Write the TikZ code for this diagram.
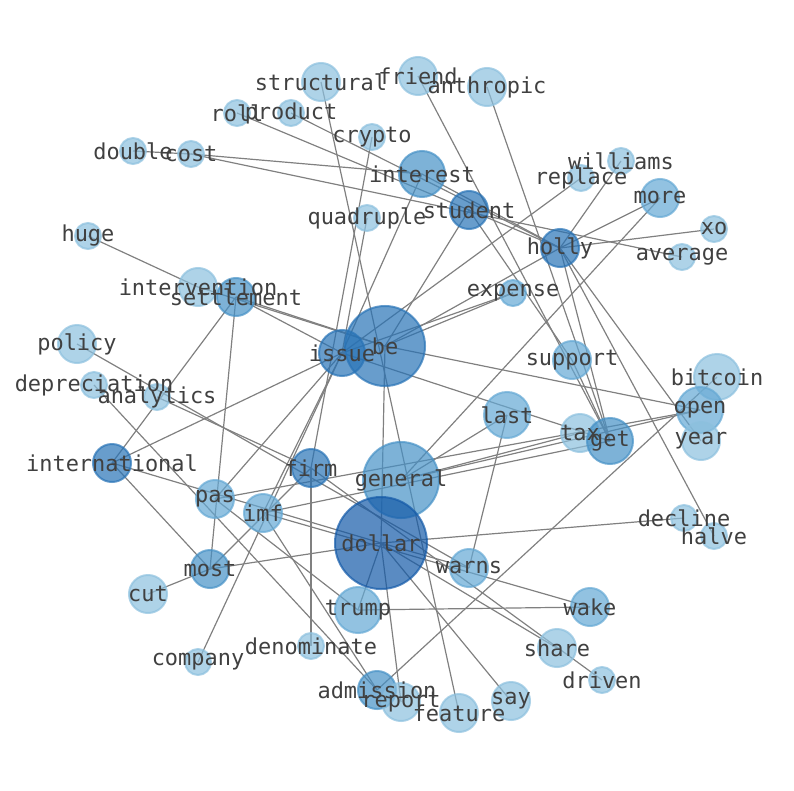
\documentclass[tikz,border=0pt]{standalone}
\usepackage{fontspec}
\newfontfamily\lblfont{DejaVu Sans Mono}
\definecolor{arista}{RGB}{128,128,128}
\definecolor{texto}{RGB}{64,64,64}
\definecolor{azul1}{RGB}{140,192,222}
\definecolor{azul2}{RGB}{100,168,212}
\definecolor{azul3}{RGB}{70,145,198}
\definecolor{azul4}{RGB}{40,115,182}
\definecolor{azul5}{RGB}{20,90,168}
\pgfdeclarelayer{fondo}
\pgfsetlayers{fondo,main}
\begin{document}
\begin{tikzpicture}[x=0.025cm, y=-0.025cm,
	nodo/.style={circle, inner sep=0pt, fill opacity=0.7, draw opacity=0.7, line width=0.05cm},
	t1/.style={minimum size=0.65cm}, t2/.style={minimum size=0.95cm}, t3/.style={minimum size=1.15cm},
	t4/.style={minimum size=1.9cm}, t5/.style={minimum size=2cm}, t6/.style={minimum size=2.3cm},
	c1/.style={fill=azul1, draw=azul1}, c2/.style={fill=azul2, draw=azul2}, c3/.style={fill=azul3, draw=azul3},
	c4/.style={fill=azul4, draw=azul4}, c5/.style={fill=azul5, draw=azul5},
	enlace/.style={draw=arista, line width=0.85pt},
	etiqueta/.style={font=\lblfont\fontsize{15.6}{18}\selectfont, text=texto, inner sep=0pt}]
	\useasboundingbox (0,0) rectangle (794,790);

	% Nodos
	\foreach \n/\x/\y/\t/\c in {structural/321/82/t2/c1, friend/418/76/t2/c1, anthropic/487/87/t2/c1,
		roll/237/113/t1/c1, product/291/113/t1/c1, crypto/372/137/t1/c1, double/133/151/t1/c1, cost/191/154/t1/c1,
		interest/422/174/t3/c3, williams/621/161/t1/c1, replace/581/178/t1/c1, more/660/198/t2/c2,
		student/469/210/t2/c4, quadruple/367/218/t1/c1, huge/88/236/t1/c1, xo/714/229/t1/c1,
		holly/560/248/t2/c4, average/682/257/t1/c1, intervention/198/287/t2/c1, settlement/236/297/t2/c3,
		expense/513/293/t1/c2, policy/77/344/t2/c1, be/385/346/t5/c4, issue/342/353/t3/c4,
		support/572/360/t2/c2, depreciation/94/385/t1/c1, analytics/157/397/t1/c1, bitcoin/717/377/t3/c1,
		open/700/410/t3/c2, last/507/415/t3/c2, tax/580/433/t2/c1, get/610/441/t3/c3, year/701/441/t2/c1,
		international/112/463/t2/c4, firm/311/468/t2/c4, general/401/480/t4/c3, pas/215/499/t2/c2,
		imf/263/513/t2/c2, dollar/381/543/t6/c5, decline/684/518/t1/c1, halve/714/536/t1/c1,
		most/210/569/t2/c3, warns/469/568/t2/c2, cut/148/594/t2/c1, trump/358/610/t3/c2,
		wake/590/607/t2/c2, share/557/648/t2/c1, denominate/311/646/t1/c1, company/198/662/t1/c1,
		driven/602/680/t1/c1, admission/377/690/t2/c3, report/401/702/t2/c1, feature/459/713/t2/c1,
		say/511/701/t2/c1}
		\node[nodo, \t, \c] (\n) at (\x,\y) {};

	% Aristas
	\begin{pgfonlayer}{fondo}
		\foreach \a/\b in {structural/feature, friend/get, anthropic/get, roll/student, product/holly,
			double/cost, cost/interest, cost/average, crypto/firm, quadruple/issue, interest/holly,
			interest/issue, student/holly, student/support, student/be, replace/issue, williams/holly,
			more/holly, more/general, xo/holly, holly/get, holly/halve, holly/year, holly/be,
			huge/intervention, intervention/be, settlement/be, settlement/issue, settlement/international,
			settlement/most, policy/warns, depreciation/admission, analytics/firm, issue/expense, be/expense,
			be/open, issue/get, issue/international, issue/pas, issue/imf, be/dollar, general/last,
			general/open, general/tax, imf/get, pas/open, international/dollar, international/most,
			most/cut, most/dollar, most/firm, company/issue, imf/admission, pas/trump, imf/wake, dollar/share,
			firm/driven, dollar/decline, dollar/trump, dollar/report, dollar/say, dollar/warns,
			last/warns, trump/wake, firm/denominate, bitcoin/admission, support/get}
			\draw[enlace] (\a.center) -- (\b.center);
	\end{pgfonlayer}

	% Etiquetas
	\foreach \n in {structural, friend, anthropic, roll, product, crypto, double, cost, interest, williams,
		replace, more, student, quadruple, huge, xo, holly, average, intervention, settlement, expense,
		policy, be, issue, support, depreciation, analytics, bitcoin, open, last, tax, get, year,
		international, firm, general, pas, imf, dollar, decline, halve, most, warns, cut, trump, wake,
		share, denominate, company, driven, admission, report, feature, say}
		\node[etiqueta] (t-\n) at (\n) {\n};
\end{tikzpicture}
\end{document}
